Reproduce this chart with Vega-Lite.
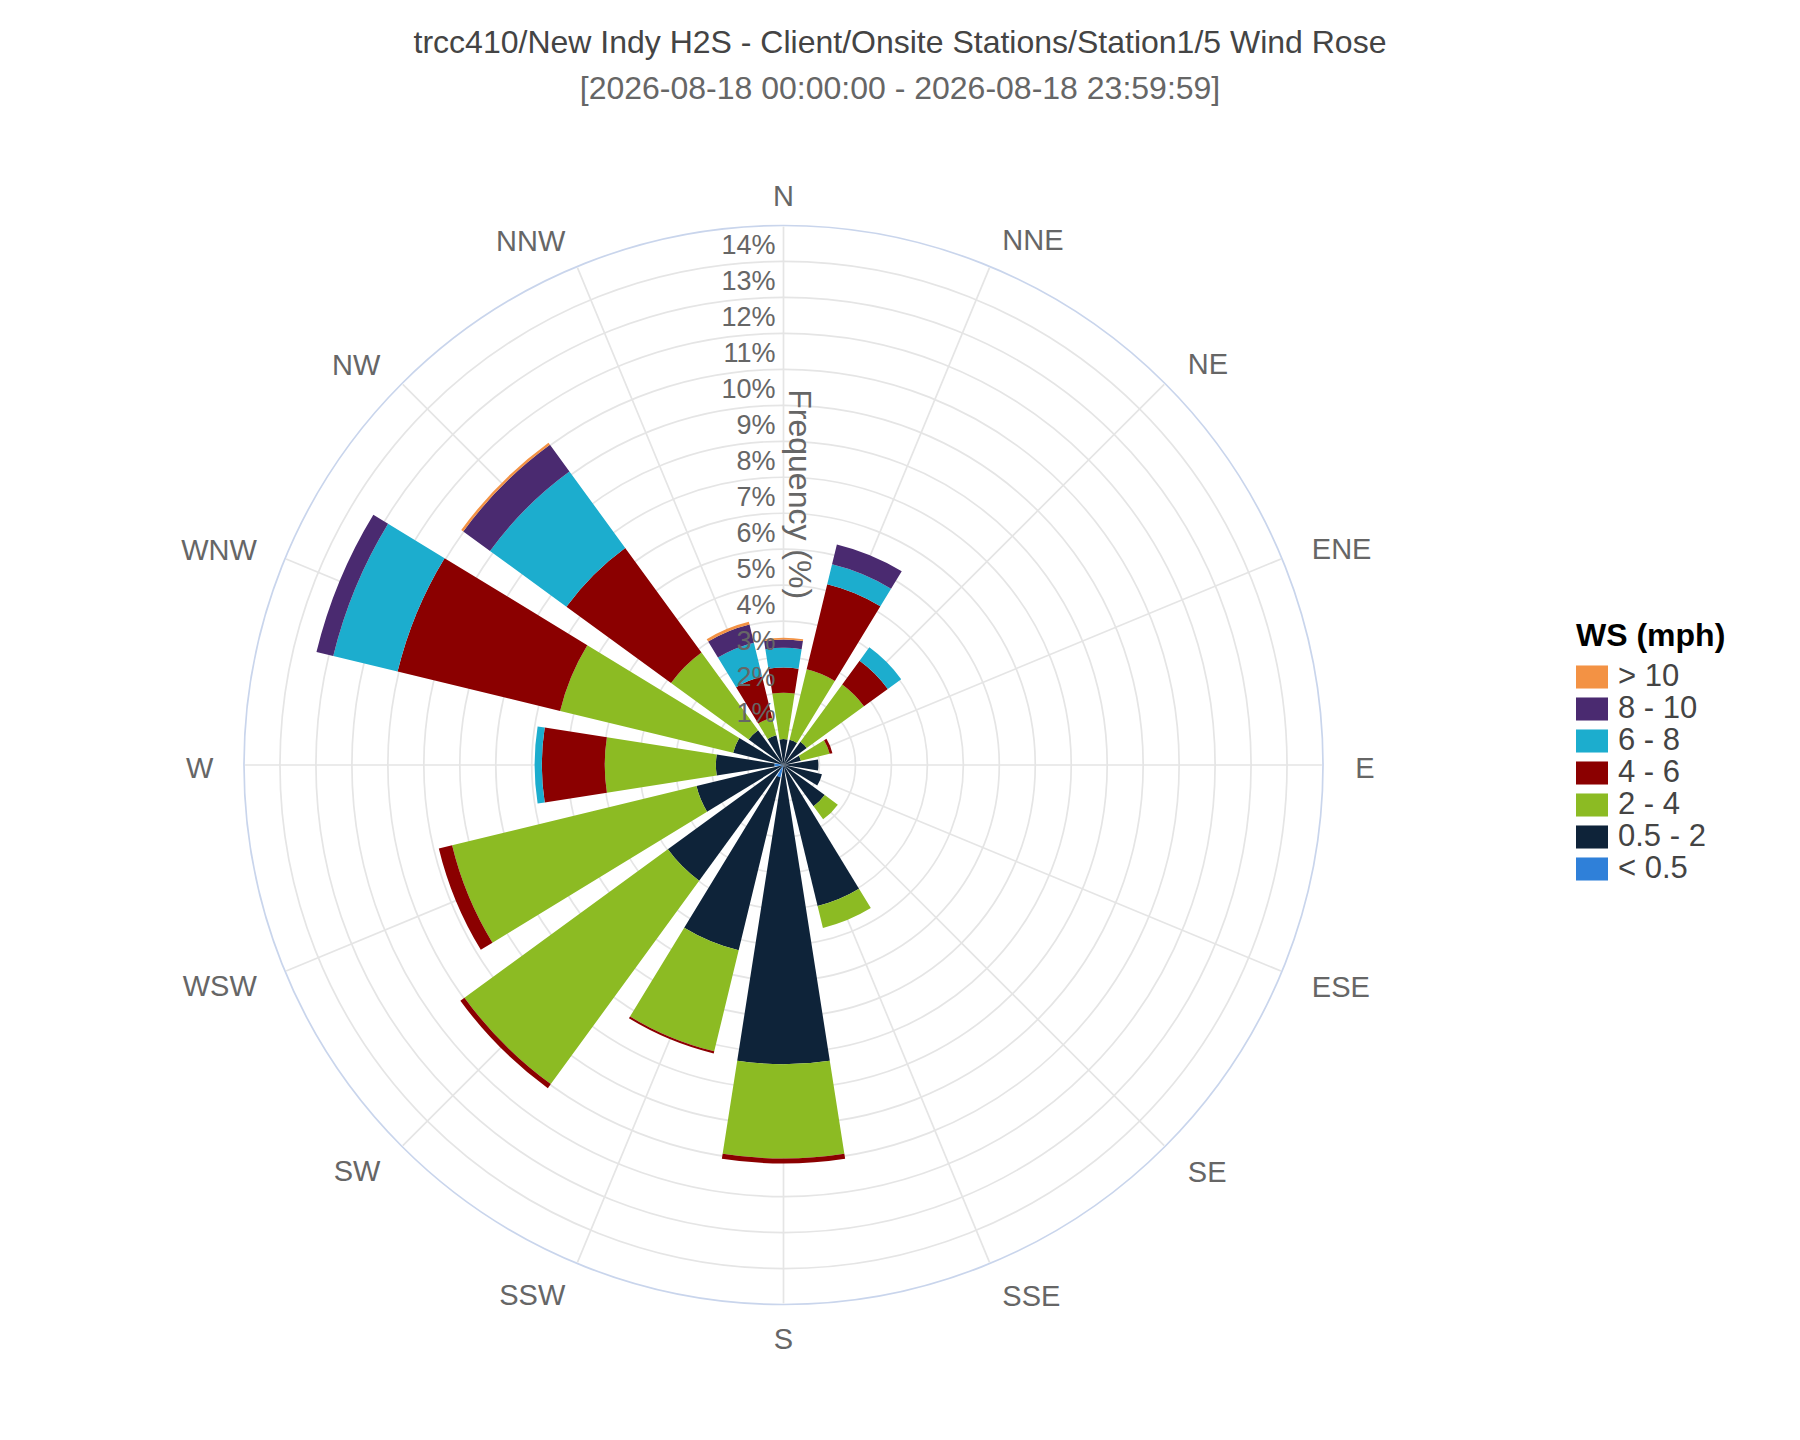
{
  "$schema": "https://vega.github.io/schema/vega-lite/v6.json",
  "width": 1567,
  "height": 1200,
  "padding": {"top": 27, "left": 0, "right": 0, "bottom": 0},
  "background": "white",
  "config": {"view": {"stroke": null}, "font": "Liberation Sans"},
  "title": {
    "text": "trcc410/New Indy H2S - Client/Onsite Stations/Station1/5 Wind Rose",
    "subtitle": "[2026-08-18 00:00:00 - 2026-08-18 23:59:59]",
    "font": "Liberation Sans",
    "fontSize": 32,
    "fontWeight": "normal",
    "color": "#444444",
    "subtitleFont": "Liberation Sans",
    "subtitleFontSize": 32,
    "subtitleColor": "#666666",
    "subtitlePadding": 14,
    "anchor": "middle",
    "dx": 116.5,
    "offset": 59
  },
  "datasets": {
    "wind": [
      {"dir": "N", "ws": "0.5 - 2", "freq": 0.72},
      {"dir": "N", "ws": "2 - 4", "freq": 1.29},
      {"dir": "N", "ws": "4 - 6", "freq": 0.70},
      {"dir": "N", "ws": "6 - 8", "freq": 0.55},
      {"dir": "N", "ws": "8 - 10", "freq": 0.23},
      {"dir": "N", "ws": "> 10", "freq": 0.05},
      {"dir": "NNE", "ws": "0.5 - 2", "freq": 0.72},
      {"dir": "NNE", "ws": "2 - 4", "freq": 2.02},
      {"dir": "NNE", "ws": "4 - 6", "freq": 2.43},
      {"dir": "NNE", "ws": "6 - 8", "freq": 0.57},
      {"dir": "NNE", "ws": "8 - 10", "freq": 0.57},
      {"dir": "NE", "ws": "0.5 - 2", "freq": 0.80},
      {"dir": "NE", "ws": "2 - 4", "freq": 1.97},
      {"dir": "NE", "ws": "4 - 6", "freq": 0.82},
      {"dir": "NE", "ws": "6 - 8", "freq": 0.46},
      {"dir": "ENE", "ws": "0.5 - 2", "freq": 0.50},
      {"dir": "ENE", "ws": "2 - 4", "freq": 0.82},
      {"dir": "ENE", "ws": "4 - 6", "freq": 0.08},
      {"dir": "E", "ws": "0.5 - 2", "freq": 0.97},
      {"dir": "ESE", "ws": "0.5 - 2", "freq": 1.10},
      {"dir": "SE", "ws": "0.5 - 2", "freq": 1.42},
      {"dir": "SE", "ws": "2 - 4", "freq": 0.45},
      {"dir": "SSE", "ws": "0.5 - 2", "freq": 4.03},
      {"dir": "SSE", "ws": "2 - 4", "freq": 0.63},
      {"dir": "S", "ws": "0.5 - 2", "freq": 8.32},
      {"dir": "S", "ws": "2 - 4", "freq": 2.62},
      {"dir": "S", "ws": "4 - 6", "freq": 0.14},
      {"dir": "SSW", "ws": "< 0.5", "freq": 0.35},
      {"dir": "SSW", "ws": "0.5 - 2", "freq": 4.95},
      {"dir": "SSW", "ws": "2 - 4", "freq": 2.89},
      {"dir": "SSW", "ws": "4 - 6", "freq": 0.06},
      {"dir": "SW", "ws": "0.5 - 2", "freq": 3.98},
      {"dir": "SW", "ws": "2 - 4", "freq": 7.00},
      {"dir": "SW", "ws": "4 - 6", "freq": 0.14},
      {"dir": "WSW", "ws": "0.5 - 2", "freq": 2.49},
      {"dir": "WSW", "ws": "2 - 4", "freq": 6.99},
      {"dir": "WSW", "ws": "4 - 6", "freq": 0.38},
      {"dir": "W", "ws": "< 0.5", "freq": 0.25},
      {"dir": "W", "ws": "0.5 - 2", "freq": 1.63},
      {"dir": "W", "ws": "2 - 4", "freq": 3.09},
      {"dir": "W", "ws": "4 - 6", "freq": 1.75},
      {"dir": "W", "ws": "6 - 8", "freq": 0.20},
      {"dir": "WNW", "ws": "0.5 - 2", "freq": 1.44},
      {"dir": "WNW", "ws": "2 - 4", "freq": 4.95},
      {"dir": "WNW", "ws": "4 - 6", "freq": 4.65},
      {"dir": "WNW", "ws": "6 - 8", "freq": 1.84},
      {"dir": "WNW", "ws": "8 - 10", "freq": 0.48},
      {"dir": "NW", "ws": "0.5 - 2", "freq": 1.20},
      {"dir": "NW", "ws": "2 - 4", "freq": 2.67},
      {"dir": "NW", "ws": "4 - 6", "freq": 3.60},
      {"dir": "NW", "ws": "6 - 8", "freq": 2.63},
      {"dir": "NW", "ws": "8 - 10", "freq": 0.92},
      {"dir": "NW", "ws": "> 10", "freq": 0.07},
      {"dir": "NNW", "ws": "0.5 - 2", "freq": 0.85},
      {"dir": "NNW", "ws": "2 - 4", "freq": 0.50},
      {"dir": "NNW", "ws": "4 - 6", "freq": 1.18},
      {"dir": "NNW", "ws": "6 - 8", "freq": 0.97},
      {"dir": "NNW", "ws": "8 - 10", "freq": 0.52},
      {"dir": "NNW", "ws": "> 10", "freq": 0.08}
    ],
    "dirs": [
      {"dir": "N", "deg": 0}, {"dir": "NNE", "deg": 22.5}, {"dir": "NE", "deg": 45}, {"dir": "ENE", "deg": 67.5},
      {"dir": "E", "deg": 90}, {"dir": "ESE", "deg": 112.5}, {"dir": "SE", "deg": 135}, {"dir": "SSE", "deg": 157.5},
      {"dir": "S", "deg": 180}, {"dir": "SSW", "deg": 202.5}, {"dir": "SW", "deg": 225}, {"dir": "WSW", "deg": 247.5},
      {"dir": "W", "deg": 270}, {"dir": "WNW", "deg": 292.5}, {"dir": "NW", "deg": 315}, {"dir": "NNW", "deg": 337.5}
    ],
    "rings": [
      {"r": 1, "lab": "1%"}, {"r": 2, "lab": "2%"}, {"r": 3, "lab": "3%"}, {"r": 4, "lab": "4%"},
      {"r": 5, "lab": "5%"}, {"r": 6, "lab": "6%"}, {"r": 7, "lab": "7%"}, {"r": 8, "lab": "8%"},
      {"r": 9, "lab": "9%"}, {"r": 10, "lab": "10%"}, {"r": 11, "lab": "11%"}, {"r": 12, "lab": "12%"},
      {"r": 13, "lab": "13%"}, {"r": 14, "lab": "14%"}, {"r": 15, "lab": ""}
    ]
  },
  "layer": [
    {
      "data": {"name": "rings"},
      "mark": {"type": "arc", "theta": 0, "theta2": 6.2832, "fillOpacity": 0, "strokeWidth": 1.7},
      "encoding": {
        "radius": {"field": "r", "type": "quantitative", "stack": null, "scale": {"type": "linear", "domain": [0, 15], "range": [0, 539.5], "zero": true, "nice": false}},
        "stroke": {"condition": {"test": "datum.r == 15", "value": "#c9d5ec"}, "value": "#e5e5e5"}
      }
    },
    {
      "data": {"name": "dirs"},
      "mark": {"type": "arc", "fillOpacity": 0, "stroke": "#e5e5e5", "strokeWidth": 1.7},
      "encoding": {
        "theta": {"field": "deg", "type": "quantitative", "stack": null, "scale": {"domain": [0, 360], "range": [0, 6.283185]}},
        "theta2": {"field": "deg"},
        "radius": {"datum": 14.97, "type": "quantitative", "scale": {"type": "linear", "domain": [0, 15], "range": [0, 539.5], "zero": true, "nice": false}},
        "radius2": {"datum": 0}
      }
    },
    {
      "data": {"name": "wind"},
      "transform": [
        {"lookup": "dir", "from": {"data": {"name": "dirs"}, "key": "dir", "fields": ["deg"]}},
        {"stack": "freq", "groupby": ["dir"], "as": ["r0", "r1"]}
      ],
      "mark": {"type": "arc", "thetaOffset": -0.1553, "theta2Offset": 0.1553},
      "encoding": {
        "theta": {"field": "deg", "type": "quantitative", "stack": null, "scale": {"domain": [0, 360], "range": [0, 6.283185]}},
        "theta2": {"field": "deg"},
        "radius": {"field": "r1", "type": "quantitative", "stack": null, "scale": {"type": "linear", "domain": [0, 15], "range": [0, 539.5], "zero": true, "nice": false}},
        "radius2": {"field": "r0"},
        "color": {
          "field": "ws", "type": "nominal",
          "scale": {
            "domain": ["> 10", "8 - 10", "6 - 8", "4 - 6", "2 - 4", "0.5 - 2", "< 0.5"],
            "range": ["#f39244", "#4a2a70", "#1cadce", "#8b0000", "#8cbb23", "#0e2339", "#2f80d9"]
          },
          "legend": {
            "title": "WS (mph)",
            "orient": "none",
            "legendX": 1576,
            "legendY": 456,
            "titleFont": "Liberation Sans",
            "titleFontSize": 32,
            "titleFontWeight": "bold",
            "titleColor": "#000000",
            "titlePadding": 8,
            "labelFont": "Liberation Sans",
            "labelFontSize": 31,
            "labelColor": "#444444",
            "labelOffset": 10,
            "symbolType": "M-1,-0.72H1V0.72H-1Z",
            "symbolSize": 1024,
            "symbolStrokeWidth": 0,
            "symbolOpacity": 1,
            "rowPadding": 1
          }
        }
      }
    },
    {
      "data": {"name": "rings"},
      "transform": [{"filter": "datum.r < 15"}],
      "mark": {"type": "text", "align": "right", "baseline": "alphabetic", "dx": -8, "dy": -7.5, "fontSize": 27, "color": "#666666"},
      "encoding": {
        "theta": {"value": 0},
        "radius": {"field": "r", "type": "quantitative", "stack": null, "scale": {"type": "linear", "domain": [0, 15], "range": [0, 539.5], "zero": true, "nice": false}},
        "text": {"field": "lab"}
      }
    },
    {
      "data": {"values": [{"t": "Frequency (%)"}]},
      "mark": {"type": "text", "angle": 90, "dy": -15.5, "fontSize": 32, "color": "#666666"},
      "encoding": {
        "theta": {"value": 0},
        "radius": {"datum": 7.53, "type": "quantitative", "scale": {"type": "linear", "domain": [0, 15], "range": [0, 539.5], "zero": true, "nice": false}},
        "text": {"field": "t"}
      }
    },
    {
      "data": {"name": "dirs"},
      "transform": [{"filter": {"field": "dir", "oneOf": ["N", "S"]}}],
      "mark": {"type": "text", "fontSize": 29, "color": "#666666", "dy": 3.5},
      "encoding": {
        "theta": {"field": "deg", "type": "quantitative", "stack": null, "scale": {"domain": [0, 360], "range": [0, 6.283185]}},
        "radius": {"datum": 15.9, "type": "quantitative", "scale": {"type": "linear", "domain": [0, 15], "range": [0, 539.5], "zero": true, "nice": false}},
        "text": {"field": "dir"}
      }
    },
    {
      "data": {"name": "dirs"},
      "transform": [{"filter": {"field": "dir", "oneOf": ["NNE", "NE", "ENE", "E", "ESE", "SE", "SSE"]}}],
      "mark": {"type": "text", "fontSize": 29, "color": "#666666", "align": "left", "dy": 4},
      "encoding": {
        "theta": {"field": "deg", "type": "quantitative", "stack": null, "scale": {"domain": [0, 360], "range": [0, 6.283185]}},
        "radius": {"datum": 15.9, "type": "quantitative", "scale": {"type": "linear", "domain": [0, 15], "range": [0, 539.5], "zero": true, "nice": false}},
        "text": {"field": "dir"}
      }
    },
    {
      "data": {"name": "dirs"},
      "transform": [{"filter": {"field": "dir", "oneOf": ["SSW", "SW", "WSW", "W", "WNW", "NW", "NNW"]}}],
      "mark": {"type": "text", "fontSize": 29, "color": "#666666", "align": "right", "dy": 4},
      "encoding": {
        "theta": {"field": "deg", "type": "quantitative", "stack": null, "scale": {"domain": [0, 360], "range": [0, 6.283185]}},
        "radius": {"datum": 15.85, "type": "quantitative", "scale": {"type": "linear", "domain": [0, 15], "range": [0, 539.5], "zero": true, "nice": false}},
        "text": {"field": "dir"}
      }
    }
  ]
}
